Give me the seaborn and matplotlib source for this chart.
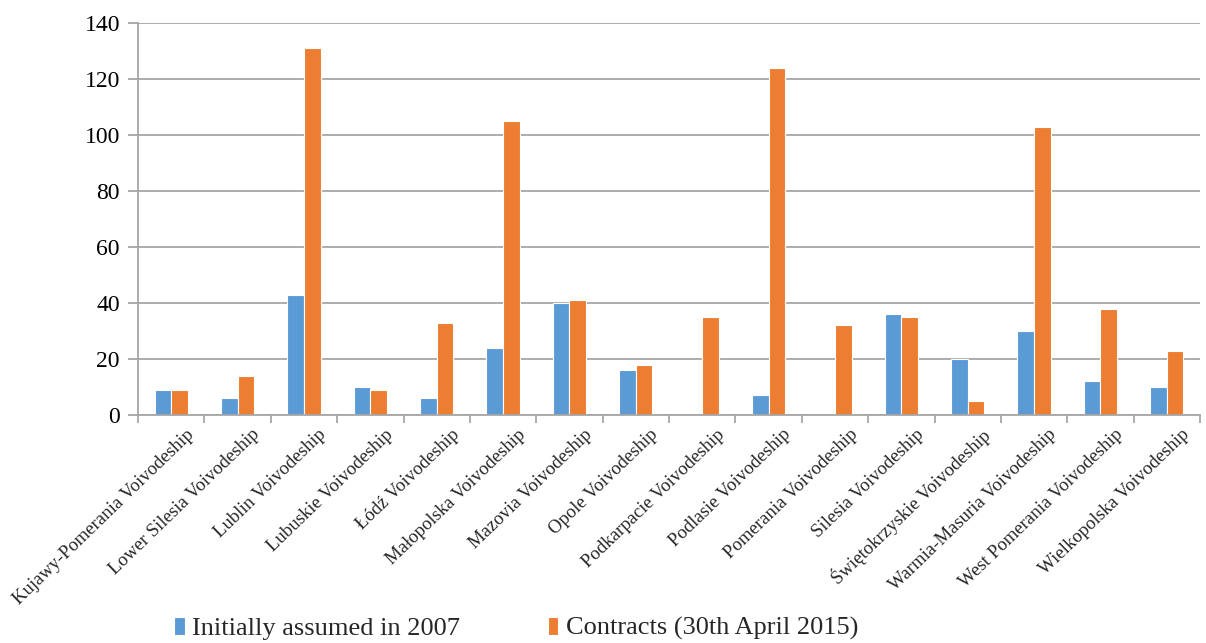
import matplotlib
matplotlib.use("Agg")
import matplotlib.pyplot as plt
import matplotlib.transforms as mtransforms
import seaborn as sns
import pandas as pd

regions = ["Kujawy-Pomerania Voivodeship", "Lower Silesia Voivodeship", "Lublin Voivodeship",
           "Lubuskie Voivodeship", "Łódź Voivodeship", "Małopolska Voivodeship",
           "Mazovia Voivodeship", "Opole Voivodeship", "Podkarpacie Voivodeship",
           "Podlasie Voivodeship", "Pomerania Voivodeship", "Silesia Voivodeship",
           "Świętokrzyskie Voivodeship", "Warmia-Masuria Voivodeship",
           "West Pomerania Voivodeship", "Wielkopolska Voivodeship"]
initial_2007 = [9, 6, 43, 10, 6, 24, 40, 16, 0, 7, 0, 36, 20, 30, 12, 10]
contracts_2015 = [9, 14, 131, 9, 33, 105, 41, 18, 35, 124, 32, 35, 5, 103, 38, 23]
series_names = ["Initially assumed in 2007", "Contracts (30th April 2015)"]
yticks = [0, 20, 40, 60, 80, 100, 120, 140]

df = pd.DataFrame({
    "region": regions * 2,
    "value": initial_2007 + contracts_2015,
    "series": [series_names[0]] * len(regions) + [series_names[1]] * len(regions),
})

sns.set_theme(style="white")
plt.rcParams["font.family"] = ["Liberation Serif", "DejaVu Serif"]

fig = plt.figure(figsize=(12.06, 6.43), dpi=100)
ax = fig.add_axes([138 / 1206, 1 - 415 / 643, (1200 - 138) / 1206, (415 - 23) / 643])

sns.barplot(data=df, x="region", y="value", hue="series", order=regions,
            hue_order=series_names, palette=["#5B9BD5", "#ED7D31"], saturation=1,
            width=0.5, gap=0, edgecolor="white", linewidth=0.8, ax=ax, legend=True)

ax.set_ylim(0, 140)
ax.set_xlim(-0.5, len(regions) - 0.5)
ax.set_yticks(yticks)
ax.set_yticklabels([str(t) for t in yticks], fontsize=17)
ax.yaxis.grid(True, color="#A6A6A6", linewidth=1.3)
ax.set_axisbelow(True)
ax.set_xlabel("")
ax.set_ylabel("")

for s in ["top", "right"]:
    ax.spines[s].set_visible(False)
for s in ["left", "bottom"]:
    ax.spines[s].set_color("#A6A6A6")
    ax.spines[s].set_linewidth(1.3)

ax.tick_params(axis="y", which="major", length=7, color="#A6A6A6", width=1.3, direction="out",
               left=True, pad=6, labelcolor="black")
ax.set_xticks(range(len(regions)))
ax.set_xticklabels(regions, rotation=44, ha="right", va="center", rotation_mode="anchor",
                   fontsize=13.5)
ax.tick_params(axis="x", which="major", length=0, pad=0)
offset = mtransforms.ScaledTranslation(20 / 100, -17 / 100, fig.dpi_scale_trans)
for lbl in ax.get_xticklabels():
    lbl.set_transform(lbl.get_transform() + offset)
ax.set_xticks([i - 0.5 for i in range(len(regions) + 1)], minor=True)
ax.tick_params(axis="x", which="minor", length=6, color="#A6A6A6", width=1.3, direction="out", bottom=True)

handles, labels = ax.get_legend_handles_labels()
ax.get_legend().remove()
fig.legend(handles, labels, loc="lower center", bbox_to_anchor=(0.428, -0.033), ncol=2,
           frameon=False, fontsize=19, handlelength=0.4, handleheight=0.65,
           handletextpad=0.3, columnspacing=3.3)

fig.savefig("out.png", dpi=100)
